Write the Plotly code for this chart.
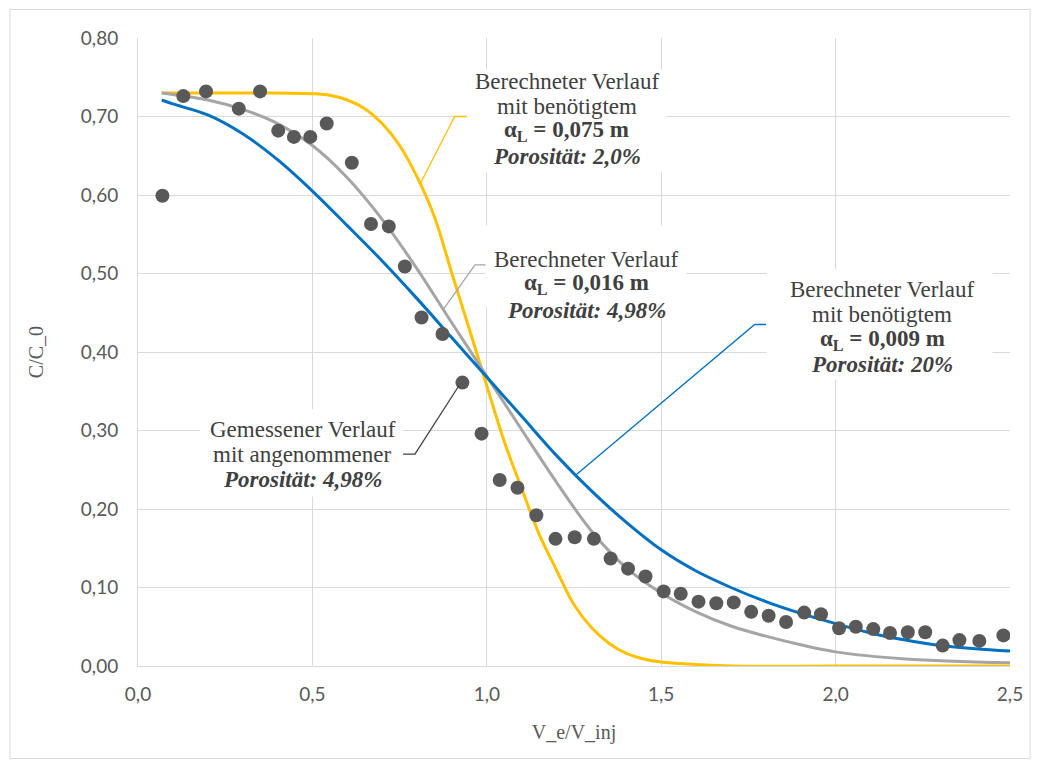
import plotly.graph_objects as go

# Measured data (Gemessener Verlauf)
meas_x = [0.070, 0.130, 0.195, 0.289, 0.350, 0.402, 0.447, 0.494, 0.541, 0.613,
          0.668, 0.719, 0.765, 0.813, 0.873, 0.930, 0.985, 1.037, 1.088, 1.142,
          1.197, 1.252, 1.307, 1.355, 1.405, 1.455, 1.507, 1.556, 1.607, 1.658,
          1.708, 1.758, 1.808, 1.858, 1.910, 1.958, 2.010, 2.058, 2.108, 2.156,
          2.207, 2.257, 2.307, 2.355, 2.412, 2.481]
meas_y = [0.599, 0.726, 0.732, 0.710, 0.732, 0.682, 0.674, 0.674, 0.691, 0.641,
          0.563, 0.560, 0.509, 0.444, 0.423, 0.361, 0.296, 0.237, 0.227, 0.192,
          0.162, 0.164, 0.162, 0.137, 0.124, 0.114, 0.095, 0.092, 0.082, 0.080,
          0.081, 0.069, 0.064, 0.056, 0.068, 0.066, 0.048, 0.050, 0.047, 0.042,
          0.043, 0.043, 0.026, 0.033, 0.032, 0.039]

# Calculated curve, alpha_L = 0,075 m, porosity 2,0 % (yellow)
yel_x = [0.068, 0.1, 0.2, 0.35, 0.5, 0.55, 0.6, 0.65, 0.7, 0.75, 0.8, 0.85, 0.9, 0.95,
         1.0, 1.05, 1.1, 1.15, 1.2, 1.25, 1.3, 1.35, 1.4, 1.45, 1.5, 1.6, 1.7,
         2.0, 2.5]
yel_y = [0.730, 0.730, 0.730, 0.730, 0.729, 0.727, 0.721, 0.710, 0.691, 0.663, 0.623,
         0.572, 0.500, 0.429, 0.357, 0.286, 0.226, 0.168, 0.122, 0.078, 0.049,
         0.029, 0.016, 0.009, 0.005, 0.002, 0.0, 0.0, 0.0]

# Calculated curve, alpha_L = 0,016 m, porosity 4,98 % (grey)
gry_x = [0.068, 0.1, 0.2, 0.3, 0.4, 0.5, 0.6, 0.7, 0.8, 0.9, 1.0, 1.1, 1.2, 1.3,
         1.4, 1.5, 1.6, 1.7, 1.8, 1.9, 2.0, 2.2, 2.5]
gry_y = [0.730, 0.728, 0.721, 0.709, 0.691, 0.663, 0.622, 0.569, 0.506, 0.437,
         0.369, 0.301, 0.234, 0.172, 0.125, 0.093, 0.069, 0.051, 0.038, 0.027,
         0.018, 0.009, 0.004]

# Calculated curve, alpha_L = 0,009 m, porosity 20 % (blue)
blu_x = [0.068, 0.1, 0.2, 0.3, 0.4, 0.5, 0.6, 0.7, 0.8, 0.9, 1.0, 1.1, 1.2, 1.3, 1.4,
         1.5, 1.6, 1.7, 1.8, 1.9, 2.0, 2.1, 2.2, 2.3, 2.4, 2.5]
blu_y = [0.721, 0.716, 0.702, 0.678, 0.645, 0.605, 0.561, 0.516, 0.468, 0.418,
         0.368, 0.318, 0.268, 0.223, 0.183, 0.148, 0.121, 0.100, 0.082, 0.067,
         0.054, 0.042, 0.033, 0.026, 0.022, 0.019]

x_ticks = [0.0, 0.5, 1.0, 1.5, 2.0, 2.5]
y_ticks = [0.0, 0.1, 0.2, 0.3, 0.4, 0.5, 0.6, 0.7, 0.8]

SERIF = "Liberation Serif, Times New Roman, serif"
SANS = "Lato, Carlito, Calibri, sans-serif"
TXT = "#404040"

fig = go.Figure()
fig.add_trace(go.Scatter(x=yel_x, y=yel_y, mode="lines", line=dict(color="#FFC000", width=3, shape="spline", smoothing=1.0),
                         name="α_L = 0,075 m, Porosität 2,0%"))
fig.add_trace(go.Scatter(x=gry_x, y=gry_y, mode="lines", line=dict(color="#A5A5A5", width=3, shape="spline", smoothing=1.0),
                         name="α_L = 0,016 m, Porosität 4,98%"))
fig.add_trace(go.Scatter(x=blu_x, y=blu_y, mode="lines", line=dict(color="#0070C0", width=3, shape="spline", smoothing=1.0),
                         name="α_L = 0,009 m, Porosität 20%"))
fig.add_trace(go.Scatter(x=meas_x, y=meas_y, mode="markers", marker=dict(color="#595959", size=14),
                         name="Gemessener Verlauf"))

# leader lines
leaders = [
    ([0.811, 0.908, 0.943], [0.616, 0.700, 0.700], "#FFC000"),
    ([0.875, 0.966, 0.997], [0.454, 0.511, 0.511], "#A5A5A5"),
    ([1.257, 1.768, 1.801], [0.244, 0.435, 0.435], "#0070C0"),
    ([0.920, 0.794, 0.760], [0.357, 0.270, 0.270], "#404040"),
]
for lx, ly, c in leaders:
    path = "M {} {} L {} {} L {} {}".format(lx[0], ly[0], lx[1], ly[1], lx[2], ly[2])
    fig.add_shape(type="path", path=path, xref="x", yref="y", line=dict(color=c, width=1.3), layer="above")

# white label boxes (x0, x1, y0, y1)
boxes = [
    (0.943, 1.516, 0.629, 0.760),
    (0.997, 1.573, 0.457, 0.561),
    (1.802, 2.450, 0.365, 0.505),
    (0.178, 0.759, 0.216, 0.327),
]
for x0, x1, y0, y1 in boxes:
    fig.add_shape(type="rect", xref="x", yref="y", x0=x0, x1=x1, y0=y0, y1=y1,
                  fillcolor="white", line=dict(width=0), layer="above")

# label texts: (x centre, [(y, text), ...])
labels = [
    (1.229, [(0.7446, "Berechneter Verlauf"), (0.7127, "mit benötigtem"),
             (0.6809, "<b>α<sub>L</sub> = 0,075 m</b>"), (0.6490, "<b><i>Porosität: 2,0%</i></b>")]),
    (1.2857, [(0.5178, "Berechneter Verlauf"), (0.4860, "<b>α<sub>L</sub> = 0,016 m</b>"),
              (0.4529, "<b><i>Porosität: 4,98%</i></b>")]),
    (2.1332, [(0.4796, "Berechneter Verlauf"), (0.4478, "mit benötigtem"),
              (0.4159, "<b>α<sub>L</sub> = 0,009 m</b>"), (0.3841, "<b><i>Porosität: 20%</i></b>")]),
    (0.4728, [(0.3013, "Gemessener Verlauf"), (0.2694, "mit angenommener"),
              (0.2376, "<b><i>Porosität: 4,98%</i></b>")]),
]
for lxc, lines in labels:
    for ly, t in lines:
        fig.add_annotation(x=lxc, y=ly, xref="x", yref="y", text=t, showarrow=False,
                           font=dict(family=SERIF, size=23, color=TXT),
                           xanchor="center", yanchor="middle")

# outer chart border
fig.add_shape(type="rect", xref="paper", yref="paper", x0=-0.1468, x1=1.023, y0=-0.1473, y1=1.0454,
              line=dict(color="#D9D9D9", width=1), layer="below")

fig.update_layout(
    width=1032, height=761,
    margin=dict(l=130, r=30, t=30, b=103),
    paper_bgcolor="white", plot_bgcolor="white",
    separators=",.",
    showlegend=False,
    font=dict(family=SANS, color="#595959"),
)
fig.update_xaxes(
    range=[0, 2.5], tickvals=x_ticks, tickformat=".1f",
    showgrid=True, gridcolor="#D9D9D9", gridwidth=1,
    showline=True, linecolor="#D9D9D9", linewidth=1,
    zeroline=False, ticks="", ticklabelstandoff=11,
    tickfont=dict(family=SANS, size=19, color="#595959"),
    title=dict(text="V_e/V_inj", font=dict(family=SERIF, size=20, color="#595959"), standoff=21),
)
fig.update_yaxes(
    range=[0, 0.8], tickvals=y_ticks, tickformat=".2f",
    showgrid=True, gridcolor="#D9D9D9", gridwidth=1,
    showline=True, linecolor="#D9D9D9", linewidth=1,
    zeroline=False, ticks="", ticklabelstandoff=15,
    tickfont=dict(family=SANS, size=19, color="#595959"),
    title=dict(text="C/C_0", font=dict(family=SERIF, size=20, color="#595959"), standoff=31),
)

fig.write_html("out.html")
